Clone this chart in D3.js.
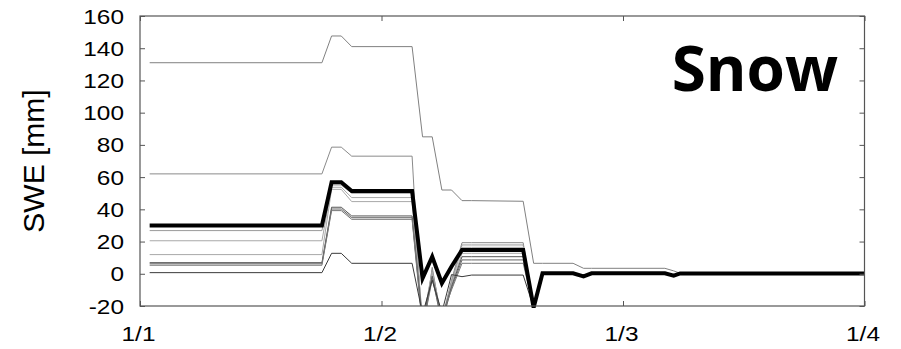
<!DOCTYPE html>
<html>
<head>
<meta charset="utf-8">
<script src="https://cdn.jsdelivr.net/npm/d3@7"></script>
<style>
  html, body { margin: 0; padding: 0; background: #fff; }
  svg { display: block; }
  .tick text { font-family: "Liberation Sans", Arial, Helvetica, sans-serif; }
</style>
</head>
<body>
<svg id="chart" width="901" height="349"></svg>
<script>
// Time axis: days since 1 January; breakpoints shared by all ensemble members
const days = [1.2, 22.6, 23.8, 25.0, 26.3, 33.8, 35.1, 36.3, 37.5, 38.7, 40.0, 41.2, 47.6, 48.9, 50.0, 53.8, 55.1, 56.1, 65.2, 66.3, 67.1, 90.0];

// Ensemble members: snow water equivalent [mm] at each breakpoint
const memberA = [131, 131, 147.6, 147.6, 141, 141, 85, 85, 52, 52, 45.4, 45.4, 45, 6.5, 6.5, 6.5, 3.4, 3.4, 3.4, 1.8, 0.3, 0.3];
const memberB = [62, 62, 78.6, 78.6, 73, 73, -40, 4, -30, -4, 19.3, 19.3, 19.3, -21, 0.3, 0.3, -1.6, 0.3, 0.3, -1.2, 0.2, 0.2];
const memberD = [26.8, 26.8, 55.1, 55.1, 50, 50, -32, 2.5, -28, -5, 17.9, 17.9, 17.9, -21, 0.3, 0.3, -1.6, 0.3, 0.3, -1.2, 0.2, 0.2];
const memberE = [20.5, 20.5, 53.7, 53.7, 47.3, 47.3, -30, 1, -30, -6, 16.4, 16.4, 16.4, -21, 0.3, 0.3, -1.6, 0.3, 0.3, -1.2, 0.2, 0.2];
const memberF = [11.9, 11.9, 52.4, 52.4, 44.8, 44.8, -28, -0.5, -32, -7, 12.7, 12.7, 12.7, -21, 0.3, 0.3, -1.6, 0.3, 0.3, -1.2, 0.2, 0.2];
const memberG = [6.9, 6.9, 41.3, 41.3, 35.9, 35.9, -30, -1.5, -28, -8, 10.6, 10.6, 10.6, -21, 0.3, 0.3, -1.6, 0.3, 0.3, -1.2, 0.2, 0.2];
const memberH = [6.2, 6.2, 40.2, 40.2, 34.8, 34.8, -32, -2.5, -30, -9, 8.6, 8.6, 8.6, -21, 0.3, 0.3, -1.6, 0.3, 0.3, -1.2, 0.2, 0.2];
const memberI = [5.3, 5.3, 39.2, 39.2, 33.8, 33.8, -34, -3.5, -26, -10, 6.5, 6.5, 6.5, -21, 0.3, 0.3, -1.6, 0.3, 0.3, -1.2, 0.2, 0.2];
const memberJ = [0.7, 0.7, 12.7, 12.7, 6.5, 6.5, -25, -4, -24, -0.5, -1.8, -0.8, -0.8, -21, 0.3, 0.3, -1.6, 0.3, 0.3, -1.2, 0.2, 0.2];
// Highlighted member (thick line)
const memberMain = [30, 30, 56.8, 56.8, 51.4, 51.4, -2.8, 10.6, -5.9, 4.5, 14.8, 14.8, 14.8, -21, 0.3, 0.3, -1.6, 0.3, 0.3, -1.2, 0.2, 0.2];

const thinMembers = [memberA, memberB, memberD, memberE, memberF, memberG, memberH, memberI, memberJ];
const thinColors = ["#808080", "#8a8a8a", "#9a9a9a", "#a8a8a8", "#a8a8a8", "#555555", "#666666", "#777777", "#3a3a3a"];

// Axis ticks
const xTickDays = [0, 30, 60, 90];
const xTickLabels = ["1/1", "1/2", "1/3", "1/4"];
const yTicks = [-20, 0, 20, 40, 60, 80, 100, 120, 140, 160];

const yTitle = "SWE [mm]";
const panelTitle = "Snow";

const svg = d3.select("#chart");
const plot = { left: 140, right: 864.5, top: 16, bottom: 306 };
const labelStretch = 1.22; // tick labels are set in a wide face

const x = d3.scaleLinear().domain([0, 90]).range([plot.left, plot.right]);
const y = d3.scaleLinear().domain([-20, 160]).range([plot.bottom, plot.top]);

svg.append("defs").append("clipPath").attr("id", "plot-clip")
  .append("rect")
  .attr("x", plot.left).attr("y", plot.top)
  .attr("width", plot.right - plot.left).attr("height", plot.bottom - plot.top);

const line = d3.line()
  .x((d, i) => x(days[i]))
  .y(d => y(d));

// Thin ensemble members, clipped to the frame
const thinG = svg.append("g").attr("clip-path", "url(#plot-clip)");
thinG.selectAll("path")
  .data(thinMembers)
  .join("path")
  .attr("d", line)
  .attr("fill", "none")
  .attr("stroke", (d, i) => thinColors[i])
  .attr("stroke-width", 1);

// Thick highlighted member
svg.append("path")
  .datum(memberMain)
  .attr("d", line)
  .attr("fill", "none")
  .attr("stroke", "#000")
  .attr("stroke-width", 4)
  .attr("stroke-linejoin", "miter");

// Axes with inward ticks on all four sides
const frameColor = "#555";
const axisLeft = d3.axisLeft(y).tickValues(yTicks).tickSize(-5).tickFormat(d => String(d));
const axisRight = d3.axisRight(y).tickValues(yTicks).tickSize(-5).tickFormat("");
const axisBottom = d3.axisBottom(x).tickValues(xTickDays).tickSize(-5)
  .tickFormat((d, i) => xTickLabels[i]);
const axisTop = d3.axisTop(x).tickValues(xTickDays).tickSize(-5).tickFormat("");

function styleAxis(g) {
  g.select(".domain").remove();
  g.selectAll(".tick line").attr("stroke", frameColor).attr("stroke-width", 1);
  g.selectAll(".tick text").attr("fill", "#000").style("font-size", "20px");
}

const gl = svg.append("g").attr("transform", `translate(${plot.left},0)`).call(axisLeft).call(styleAxis);
gl.selectAll(".tick text")
  .attr("x", 0).attr("dy", "0.35em")
  .attr("transform", `translate(-16,0) scale(${labelStretch},1)`);

svg.append("g").attr("transform", `translate(${plot.right},0)`).call(axisRight).call(styleAxis);

const gb = svg.append("g").attr("transform", `translate(0,${plot.bottom})`).call(axisBottom).call(styleAxis);
gb.selectAll(".tick text")
  .attr("y", 0).attr("dy", "0.71em")
  .attr("transform", `translate(-2,21) scale(${labelStretch},1)`);

svg.append("g").attr("transform", `translate(0,${plot.top})`).call(axisTop).call(styleAxis);

// Frame
svg.append("rect")
  .attr("x", plot.left).attr("y", plot.top)
  .attr("width", plot.right - plot.left).attr("height", plot.bottom - plot.top)
  .attr("fill", "none").attr("stroke", frameColor).attr("stroke-width", 1.2);

// Y axis title
svg.append("text")
  .attr("transform", `translate(43.5, ${(plot.top + plot.bottom) / 2}) rotate(-90)`)
  .attr("text-anchor", "middle")
  .style("font-family", "'Liberation Sans', Arial, sans-serif")
  .style("font-size", "30px")
  .text(yTitle);

// Panel title
svg.append("text")
  .attr("x", 838).attr("y", 91)
  .attr("text-anchor", "end")
  .style("font-family", "'Open Sans', 'Noto Sans', sans-serif")
  .style("font-weight", "700")
  .style("font-size", "62px")
  .text(panelTitle);
</script>
</body>
</html>
